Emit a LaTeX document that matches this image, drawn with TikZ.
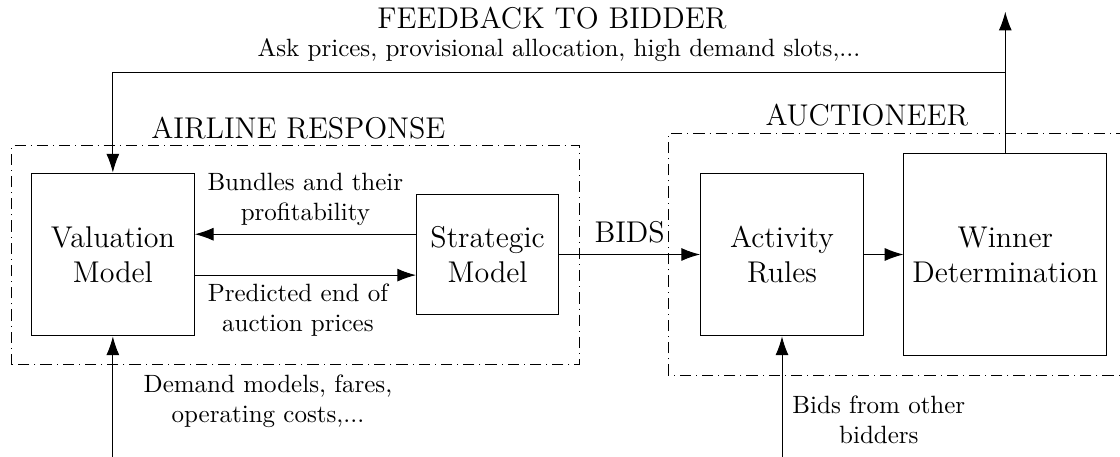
\documentclass[tikz,border=0pt]{standalone}
\usepackage{tikz}
\usetikzlibrary{arrows.meta, positioning}
\tikzstyle{block} = [rectangle, 
minimum width=2.29cm, 
minimum height=2.29cm, 
text centered, 
align=center, 
font=\large, 
draw=black]
\tikzstyle{frame} = [draw=black, 
dash pattern=on 4.5pt off 2pt on 0.4pt off 2pt]
\tikzstyle{title} = [font=\large]
\tikzstyle{note} = [align=center]
\tikzstyle{arrow} = [-{Latex[length=7.5pt,width=5.2pt]}]

\begin{document}
\begin{tikzpicture}[node distance=2cm]
\useasboundingbox (0,0) rectangle (15.75,6.426);
\node (val) [block] at (1.587,2.847) {Valuation\\Model};
\node (strat) [block, right of=val, node distance=5.27cm, minimum width=2cm, minimum height=1.7cm] {Strategic\\Model};
\node (act) [block, right of=strat, node distance=4.14cm] {Activity\\Rules};
\node (win) [block, right of=act, node distance=3.14cm, minimum width=2.85cm, minimum height=2.85cm] {Winner\\Determination};

% frames
\draw [frame] (0.162,1.293) rectangle (8.152,4.377);
\draw [frame] (9.406,1.143) rectangle (15.85,4.551);
\node (airline) [title] at (4.197,4.626) {AIRLINE RESPONSE};
\node (auct) [title] at (12.19,4.808) {AUCTIONEER};

% feedback loop
\coordinate (out) at (win.north |- 0,6.261);
\coordinate (fbjoin) at (win.north |- 0,5.413);
\draw [arrow] (win.north) -- (out);
\draw [arrow] (fbjoin) -| (val.north);
\node (fbtitle) [title] at (7.761,6.168) {FEEDBACK TO BIDDER};
\node (fbtext) at (7.86,5.722) {Ask prices, provisional allocation, high demand slots,...};

% inside the airline
\draw [arrow] ([yshift=0.285cm]strat.west) -- ([yshift=0.285cm]val.east) node [note, midway, above] {Bundles and their\\profitability};
\draw [arrow] ([yshift=-0.29cm]val.east) -- ([yshift=-0.29cm]strat.west) node [note, midway, below, xshift=-3pt] {Predicted end of\\auction prices};
\draw [arrow] (strat.east) -- (act.west) node [midway, above, font=\large, yshift=1pt] {BIDS};
\draw [arrow] (act.east) -- (win.west);

% inputs
\coordinate (demand) at (val.south |- 0,0);
\draw [arrow] (demand) -- (val.south);
\node (demtext) [note] at (3.768,0.780) {Demand models, fares,\\operating costs,...};
\coordinate (others) at (act.south |- 0,0);
\draw [arrow] (others) -- (act.south);
\node (othtext) [note] at (12.359,0.520) {Bids from other\\bidders};
\end{tikzpicture}
\end{document}
